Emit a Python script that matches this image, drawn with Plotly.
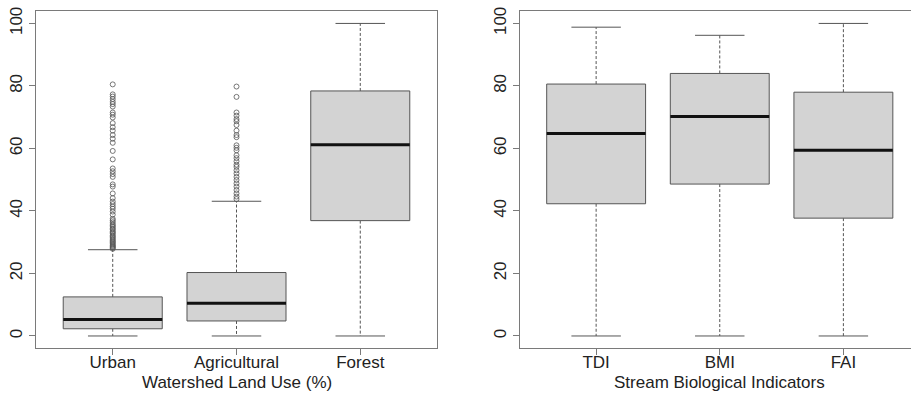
import plotly.graph_objects as go

# ---------------- data ----------------
land_cats = ["Urban", "Agricultural", "Forest"]
land_low = [0.0, 0.0, 0.0]
land_q1 = [2.3, 4.8, 36.9]
land_med = [5.3, 10.5, 61.2]
land_q3 = [12.5, 20.3, 78.4]
land_high = [27.6, 43.1, 100.0]

urban_out = [80.5, 77.3, 76.6, 75.8, 74.9, 74.2, 73.4, 71.5, 70.8, 69.9, 68.1, 66.8,
             65.7, 64.3, 63.1, 61.8, 59.2, 56.5, 53.6, 52.7, 51.8, 50.9, 48.5, 47.8,
             45.6, 44.1, 43.0, 42.2, 41.4, 40.7, 39.8, 38.8, 37.5, 37.0, 36.4, 35.8,
             35.3, 34.9, 34.4, 34.0, 33.5, 33.1, 32.7, 32.2, 31.8, 31.4, 31.0, 30.6,
             30.2, 29.9, 29.5, 29.1, 28.8, 28.5, 28.2, 27.9]
agri_out = [79.8, 76.5, 71.5, 70.5, 69.4, 68.7, 67.5, 65.7, 64.3, 63.6, 61.0, 60.2,
            59.4, 57.8, 56.9, 55.9, 54.8, 54.1, 53.0, 52.0, 50.9, 49.9, 48.8, 47.8,
            46.7, 45.6, 44.6, 43.8]
forest_out = []
land_out = [urban_out, agri_out, forest_out]

bio_cats = ["TDI", "BMI", "FAI"]
bio_low = [0.0, 0.0, 0.0]
bio_q1 = [42.3, 48.6, 37.7]
bio_med = [64.8, 70.2, 59.4]
bio_q3 = [80.6, 84.0, 78.0]
bio_high = [98.8, 96.2, 100.0]

y_ticks = [0, 20, 40, 60, 80, 100]

# ---------------- style ----------------
FILL = "#d3d3d3"
EDGE = "#555555"
FRAME = "#7a7a7a"
FONT = "Liberation Sans, Arial, sans-serif"
BOXW = 0.4      # half width of box
STAPW = 0.2     # half width of staple

fig = go.Figure()


def add_panel(cats, low, q1, med, q3, high, outs, xa, ya):
    for i in range(len(cats)):
        x = i + 1
        # whiskers (dashed)
        fig.add_trace(go.Scatter(
            x=[x, x, None, x, x], y=[q3[i], high[i], None, q1[i], low[i]],
            mode="lines", line=dict(color=EDGE, width=1, dash="3px,2px"),
            xaxis=xa, yaxis=ya, hoverinfo="skip", showlegend=False))
        # staples
        fig.add_trace(go.Scatter(
            x=[x - STAPW, x + STAPW, None, x - STAPW, x + STAPW],
            y=[high[i], high[i], None, low[i], low[i]],
            mode="lines", line=dict(color=EDGE, width=1),
            xaxis=xa, yaxis=ya, hoverinfo="skip", showlegend=False))
        # box
        fig.add_trace(go.Scatter(
            x=[x - BOXW, x + BOXW, x + BOXW, x - BOXW, x - BOXW],
            y=[q1[i], q1[i], q3[i], q3[i], q1[i]],
            mode="lines", fill="toself", fillcolor=FILL,
            line=dict(color=EDGE, width=1),
            xaxis=xa, yaxis=ya, hoverinfo="skip", showlegend=False))
        # median
        fig.add_trace(go.Scatter(
            x=[x - BOXW, x + BOXW], y=[med[i], med[i]],
            mode="lines", line=dict(color="#111111", width=3),
            xaxis=xa, yaxis=ya, hoverinfo="skip", showlegend=False))
        # outliers
        if outs is not None and len(outs[i]) > 0:
            fig.add_trace(go.Scatter(
                x=[x] * len(outs[i]), y=outs[i], mode="markers",
                marker=dict(symbol="circle-open", size=5,
                            color="#555555", line=dict(width=0.8)),
                xaxis=xa, yaxis=ya, hoverinfo="skip", showlegend=False))


add_panel(land_cats, land_low, land_q1, land_med, land_q3, land_high, land_out, "x", "y")
add_panel(bio_cats, bio_low, bio_q1, bio_med, bio_q3, bio_high, None, "x2", "y2")

W, H = 911, 394
ydom = [1 - 348 / H, 1 - 7 / H]

xcommon = dict(showline=True, linecolor=FRAME, linewidth=1, mirror=True,
               ticks="outside", ticklen=6, tickcolor=FRAME, showgrid=False,
               zeroline=False, tickfont=dict(family=FONT, size=17, color="#222"),
               tickvals=[1, 2, 3], ticklabelstandoff=-8)
ycommon = dict(showline=True, linecolor=FRAME, linewidth=1,
               ticks="outside", ticklen=6, tickcolor=FRAME, showgrid=False,
               zeroline=False, range=[-4, 104], tickvals=y_ticks,
               ticktext=[str(v) for v in y_ticks], tickangle=-90,
               ticklabelstandoff=0,
               tickfont=dict(family=FONT, size=17, color="#222"), domain=ydom)

fig.update_layout(
    width=W, height=H,
    margin=dict(l=0, r=0, t=0, b=0),
    paper_bgcolor="white", plot_bgcolor="white",
    xaxis=dict(xcommon, domain=[36 / W, 437 / W], range=[0.38, 3.62],
               ticktext=land_cats, anchor="y"),
    yaxis=dict(ycommon, mirror=True, anchor="x"),
    xaxis2=dict(xcommon, domain=[519.5 / W, 1.0], range=[0.38, 3.547],
                ticktext=bio_cats, anchor="y2"),
    yaxis2=dict(ycommon, mirror=False, anchor="x2"),
    annotations=[
        dict(text="Watershed Land Use (%)", x=236.5 / W, y=1 - 382 / H,
             xref="paper", yref="paper", showarrow=False,
             xanchor="center", yanchor="middle",
             font=dict(family=FONT, size=17, color="#222")),
        dict(text="Stream Biological Indicators", x=719.5 / W, y=1 - 382 / H,
             xref="paper", yref="paper", showarrow=False,
             xanchor="center", yanchor="middle",
             font=dict(family=FONT, size=17, color="#222")),
    ],
)

fig.write_html(
    "out.html",
    config={"displayModeBar": False},
    post_script="document.body.style.margin='0';document.body.style.overflow='hidden';",
)
